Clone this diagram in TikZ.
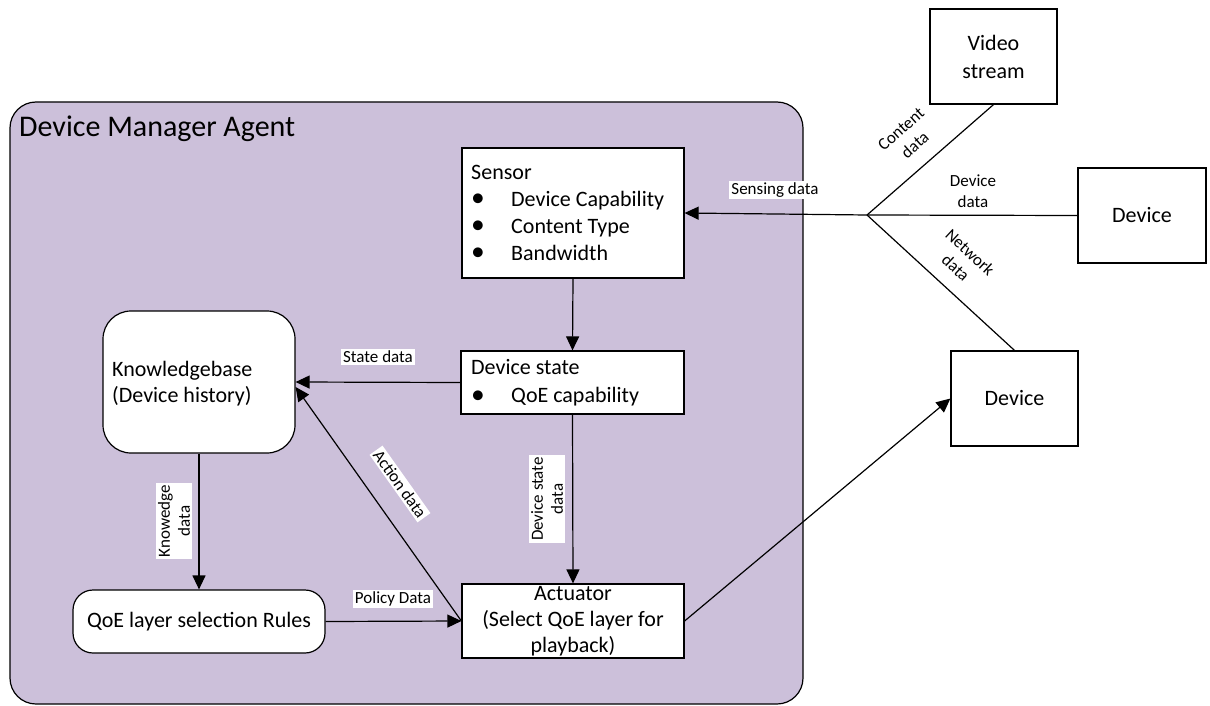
\documentclass[tikz,border=0pt]{standalone}
\usepackage{fontspec}
\setmainfont{Carlito}
\usetikzlibrary{arrows.meta,calc}
\definecolor{agentfill}{RGB}{204,192,218}
\tikzset{
  conn/.style={line width=1.2pt},
  arr/.style={conn,-{Triangle[length=14pt,width=13pt]}},
  box/.style={draw,line width=1.2pt,fill=white,inner sep=0pt},
  outbox/.style={draw,line width=1.2pt,inner sep=0pt,font=\fontsize{22}{28}\selectfont,align=center},
  lbl/.style={fill=white,inner sep=2pt,font=\fontsize{17}{18}\selectfont,align=center},
  olbl/.style={inner sep=1pt,font=\fontsize{17}{21}\selectfont,align=center},
}
\newcommand{\bul}{\makebox[40pt][l]{\raisebox{-0.5pt}{\scalebox{1.25}{\textbullet}}}}
\begin{document}
\begin{tikzpicture}[x=1pt,y=-1pt]
\useasboundingbox (0,0) rectangle (1210,706);
% outer agent
\node[draw,line width=1.2pt,fill=agentfill,rounded corners=26pt,minimum width=793pt,minimum height=602pt,inner sep=0pt] (agent) at (406.5,403) {};
\node[anchor=west,inner sep=0pt,font=\fontsize{30}{34}\selectfont] (title) at (19,129) {Device Manager Agent};
% sensor
\node[box,minimum width=222pt,minimum height=130pt] (sensor) at (573,213) {};
\node[anchor=west,inner sep=0pt,align=left,font=\fontsize{22}{27}\selectfont] (sensortxt) at (471,213) {Sensor\\\bul Device Capability\\\bul Content Type\\\bul Bandwidth};
% device state
\node[box,minimum width=223pt,minimum height=63pt] (ds) at (572.5,382.5) {};
\node[anchor=west,inner sep=0pt,align=left,font=\fontsize{22}{28}\selectfont] (dstxt) at (471,383) {Device state\\\bul QoE capability};
% actuator
\node[box,minimum width=222pt,minimum height=74pt,align=center,font=\fontsize{22}{26}\selectfont] (act) at (573,621) {Actuator\\(Select QoE layer for\\playback)};
% knowledgebase
\node[box,rounded corners=28pt,minimum width=192pt,minimum height=142pt] (kb) at (199,382) {};
\node[anchor=west,inner sep=0pt,align=left,font=\fontsize{22}{26}\selectfont] (kbtxt) at (112,384) {Knowledgebase\\(Device history)};
% QoE rules
\node[box,rounded corners=20pt,minimum width=252pt,minimum height=63pt,font=\fontsize{22}{26}\selectfont] (qoe) at (199,621.5) {QoE layer selection Rules};
% outer boxes
\node[outbox,minimum width=127pt,minimum height=95pt] (video) at (993.5,56.5) {Video\\stream};
\node[outbox,minimum width=128pt,minimum height=95pt] (dev1) at (1142,215.5) {Device};
\node[outbox,minimum width=127pt,minimum height=95pt] (dev2) at (1014.5,398.5) {Device};
\coordinate (J) at (867,215);
% connectors
\draw[conn] (J) -- (video.south);
\draw[conn] (J) -- (dev1.west);
\draw[conn] (J) -- (dev2.north);
\draw[arr] (J) -- (sensor.east);
\draw[arr] (sensor.south) -- (ds.north);
\draw[arr] (ds.west) -- (kb.east);
\draw[arr] (ds.south) -- (act.north);
\draw[arr] (act.west) -- ($(kb.east)+(0,5)$);
\draw[arr] (kb.south) -- (qoe.north);
\draw[arr] (qoe.east) -- (act.west);
\draw[arr] (act.east) -- (dev2.west);
% labels
\node[lbl] (lsense) at (775,190) {Sensing data};
\node[lbl] (lstate) at (378,357) {State data};
\node[lbl,rotate=-54.6] (laction) at (400,484) {Action data};
\node[lbl,rotate=90,font=\fontsize{17}{20}\selectfont] (ldsd) at (547,499) {Device state\\data};
\node[lbl,rotate=90,font=\fontsize{17}{20}\selectfont] (lknow) at (174,521) {Knowedge\\data};
\node[lbl] (lpolicy) at (393,599) {Policy Data};
\node[olbl,rotate=41.4] (lcontent) at (908,137) {Content\\data};
\node[olbl] (ldevice) at (973,191) {Device\\data};
\node[olbl,rotate=-42.8] (lnetwork) at (963,260) {Network\\data};
\end{tikzpicture}
\end{document}
